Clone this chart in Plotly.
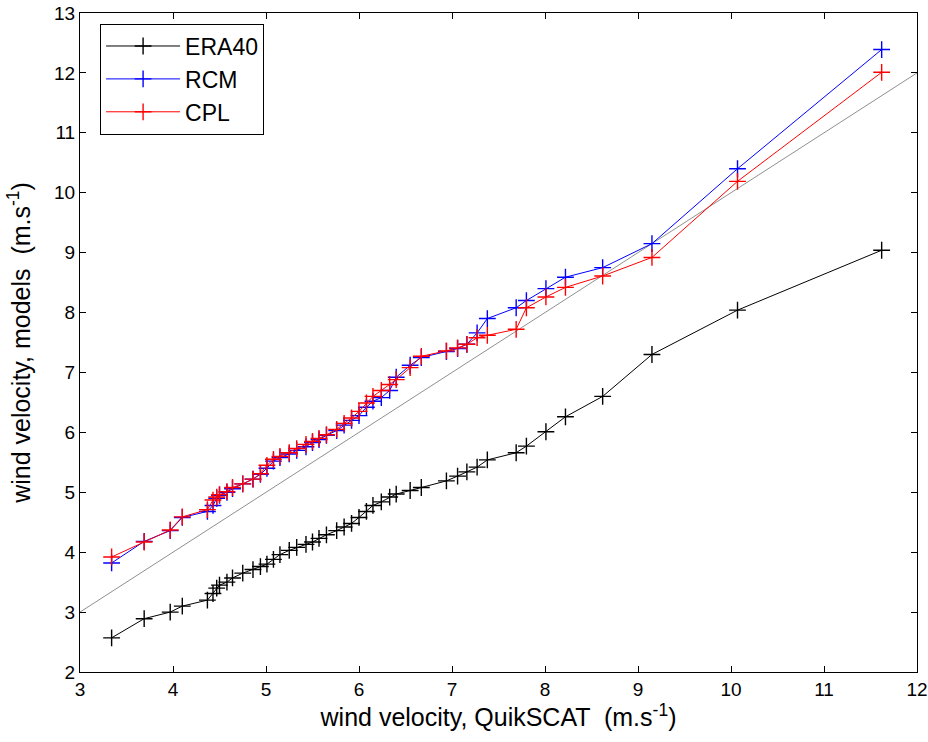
import plotly.graph_objects as go

# QuikSCAT quantiles (x) and model quantiles (y)
quikscat = [3.34, 3.69, 3.97, 4.10, 4.37, 4.43, 4.47, 4.50, 4.58, 4.64,
            4.75, 4.86, 4.94, 5.01, 5.08, 5.15, 5.25, 5.33, 5.43, 5.50,
            5.57, 5.65, 5.76, 5.84, 5.92, 6.00, 6.08, 6.15, 6.24, 6.33,
            6.40, 6.55, 6.67, 6.94, 7.06, 7.16, 7.27, 7.38, 7.69, 7.80,
            8.01, 8.22, 8.62, 9.15, 10.07, 11.62]
era40 = [2.57, 2.89, 3.00, 3.10, 3.20, 3.31, 3.40, 3.45, 3.50, 3.57,
         3.65, 3.71, 3.76, 3.80, 3.88, 3.96, 4.03, 4.08, 4.13, 4.17,
         4.23, 4.29, 4.36, 4.42, 4.48, 4.58, 4.68, 4.78, 4.84, 4.92,
         4.97, 5.03, 5.08, 5.19, 5.27, 5.34, 5.42, 5.54, 5.66, 5.77,
         6.01, 6.26, 6.60, 7.30, 8.04, 9.04]
rcm = [3.82, 4.18, 4.36, 4.58, 4.68, 4.78, 4.90, 4.95, 5.00, 5.06,
       5.14, 5.22, 5.30, 5.40, 5.52, 5.58, 5.64, 5.70, 5.76, 5.83,
       5.88, 5.95, 6.03, 6.12, 6.20, 6.28, 6.42, 6.52, 6.58, 6.70,
       6.92, 7.12, 7.25, 7.35, 7.40, 7.47, 7.66, 7.90, 8.08, 8.20,
       8.40, 8.59, 8.75, 9.15, 10.40, 12.39]
cpl = [3.92, 4.17, 4.37, 4.59, 4.71, 4.87, 4.92, 4.96, 5.01, 5.08,
       5.14, 5.22, 5.31, 5.45, 5.55, 5.60, 5.66, 5.73, 5.80, 5.85,
       5.90, 5.96, 6.05, 6.15, 6.24, 6.35, 6.49, 6.60, 6.70, 6.80,
       6.88, 7.08, 7.27, 7.36, 7.41, 7.47, 7.58, 7.62, 7.72, 8.08,
       8.26, 8.42, 8.61, 8.92, 10.19, 12.01]
diag = [3, 12]

x_ticks = list(range(3, 13))
y_ticks = list(range(2, 14))

fig = go.Figure()
fig.add_trace(go.Scatter(x=diag, y=diag, mode="lines",
                         line=dict(color="#909090", width=1),
                         showlegend=False, hoverinfo="skip"))

series = [("ERA40", era40, "#000000"), ("RCM", rcm, "#0000ff"), ("CPL", cpl, "#ff0000")]
for name, ys, col in series:
    fig.add_trace(go.Scatter(
        x=quikscat, y=ys, mode="lines+markers", name=name,
        line=dict(color=col, width=1),
        marker=dict(symbol="cross-thin", size=12, color=col,
                    line=dict(width=1.4, color=col)),
    ))

font = "Liberation Sans, Arial, sans-serif"
fig.update_layout(
    width=928, height=742,
    paper_bgcolor="white", plot_bgcolor="white",
    margin=dict(l=80, r=11, t=13, b=70, autoexpand=False),
    font=dict(family=font, size=19, color="black"),
    showlegend=True,
    legend=dict(x=0.024, y=0.984, xanchor="left", yanchor="top",
                bgcolor="white", bordercolor="black", borderwidth=1,
                font=dict(size=23), itemwidth=74, tracegroupgap=0),
    xaxis=dict(range=[3, 12], tickvals=x_ticks, ticks="inside", ticklen=6,
               tickcolor="black", showline=True, linecolor="black", linewidth=1,
               mirror="ticks", showgrid=False, zeroline=False,
               ticklabeloverflow="allow", automargin=False,
               title=dict(text="wind velocity, QuikSCAT \u00a0(m.s<sup>-1</sup>)",
                          font=dict(size=25), standoff=6)),
    yaxis=dict(range=[2, 13], tickvals=y_ticks, ticks="inside", ticklen=6,
               tickcolor="black", showline=True, linecolor="black", linewidth=1,
               mirror="ticks", showgrid=False, zeroline=False,
               ticklabeloverflow="allow", automargin=False,
               title=dict(text="wind velocity, models \u00a0(m.s<sup>-1</sup>)",
                          font=dict(size=25), standoff=16)),
)

fig.write_html("out.html", config={"displayModeBar": False},
               post_script="document.body.style.margin='0';document.body.style.overflow='hidden';")
